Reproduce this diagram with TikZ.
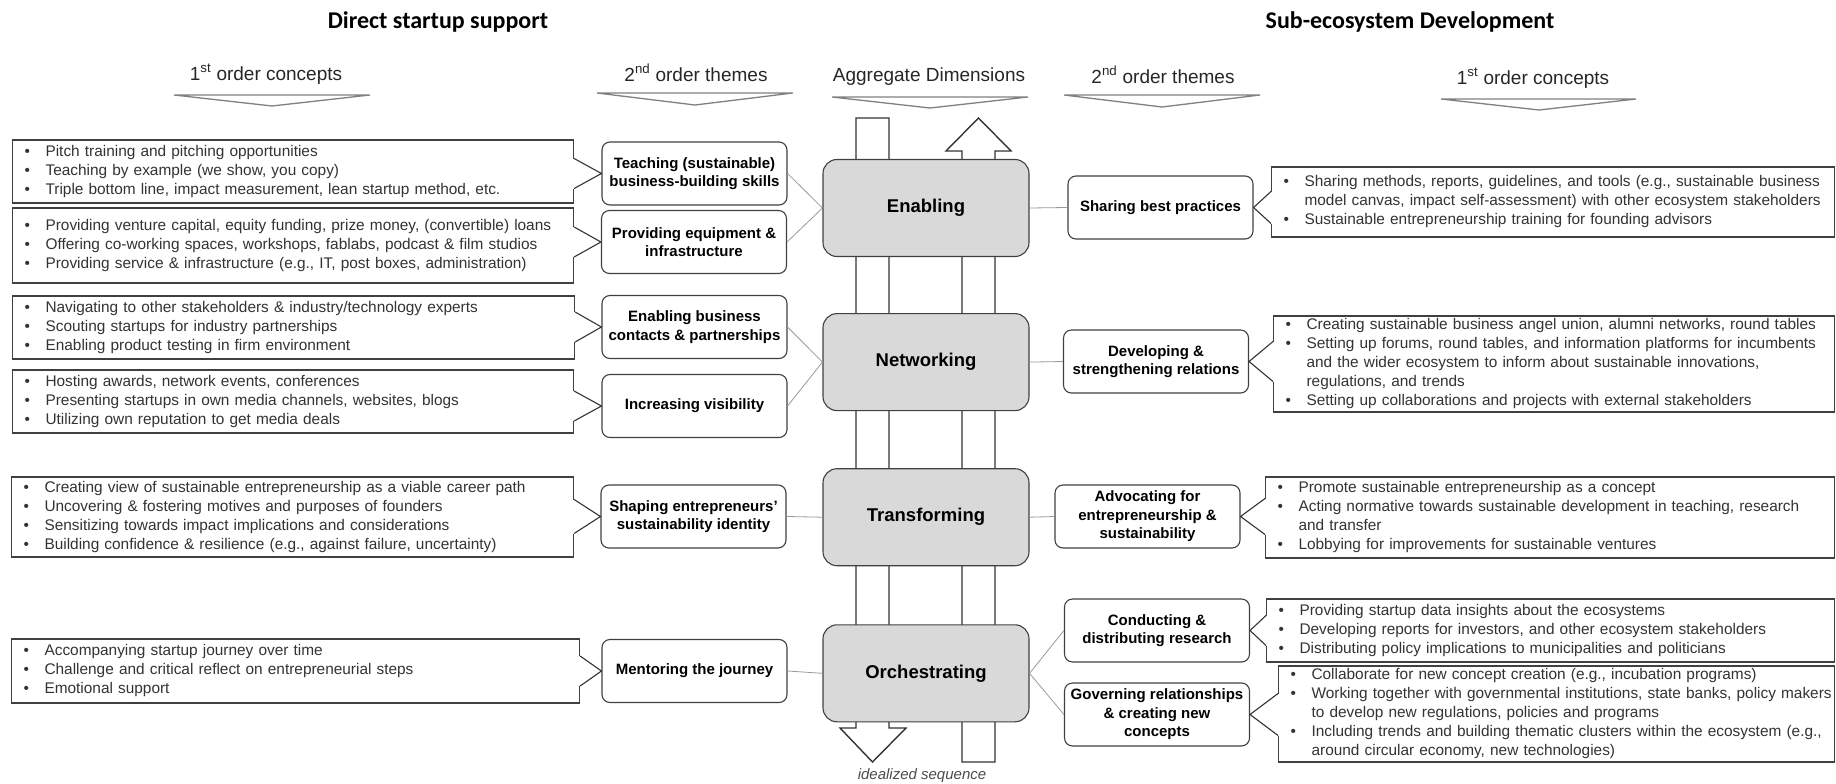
\documentclass[tikz,border=0pt]{standalone}
\usepackage{fontspec}
\setmainfont{Liberation Sans}
\newfontfamily\titlefont{Carlito}
\usetikzlibrary{positioning,calc}

\newcommand{\itm}[1]{\mbox{\makebox[21bp][l]{\textbullet}#1}}
\newcommand{\cnt}[1]{\mbox{\hspace*{21bp}#1}}

\begin{document}
\begin{tikzpicture}[x=1bp,y=-1bp,line width=1.1bp,node distance=56bp,
  concept/.style={draw=black!75,fill=white,anchor=west,align=left,inner xsep=12bp,inner ysep=0pt,text=black!80,font=\fontsize{15.4bp}{19bp}\selectfont},
  theme/.style={draw=black!75,fill=white,rounded corners=8bp,align=center,minimum width=185bp,minimum height=63bp,inner sep=1bp,font=\bfseries\fontsize{15bp}{18.5bp}\selectfont},
  agg/.style={draw=black!75,fill=black!15,rounded corners=14bp,minimum width=206bp,minimum height=97bp,font=\bfseries\fontsize{18.5bp}{22bp}\selectfont},
  head/.style={text=black!85,font=\fontsize{19bp}{22bp}\selectfont},
  title/.style={font=\titlefont\bfseries\fontsize{24bp}{28bp}\selectfont},
  chev/.style={draw=black!50,fill=white,line width=1.3bp},
  flow/.style={draw=black!80,fill=white,line width=1.4bp},
  link/.style={draw=black!40,line width=0.8bp},
  gap/.style={draw=white,line width=2.6bp},
  brace/.style={draw=black!80,line width=1.1bp}]

\useasboundingbox (0,0) rectangle (1836,784);

% titles and column heads
\node[title] (dss) at (438,22) {Direct startup support};
\node[title] (sed) at (1410,22) {Sub-ecosystem Development};

\node[head] (h1) at (266,74) {1\textsuperscript{st} order concepts};
\node[head] (h2) at (696,73) {2\textsuperscript{nd} order themes};
\node[head] (h3) at (929,77) {Aggregate Dimensions};
\node[head] (h4) at (1163,75) {2\textsuperscript{nd} order themes};
\node[head] (h5) at (1533,78) {1\textsuperscript{st} order concepts};

\draw[chev] (174,95) -- (370,95) -- (272,106) -- cycle;
\draw[chev] (597,93) -- (793,93) -- (695,105) -- cycle;
\draw[chev] (832,97) -- (1028,97) -- (930,108) -- cycle;
\draw[chev] (1064,95) -- (1260,95) -- (1162,107) -- cycle;
\draw[chev] (1441,99) -- (1636,99) -- (1539,110) -- cycle;

% idealized sequence arrows
\draw[flow] (856,118) -- (889,118) -- (889,728) -- (906,728) -- (872.5,762) -- (840,728) -- (856,728) -- cycle;
\draw[flow] (962,762) -- (962,151) -- (946,151) -- (978.5,118) -- (1011,151) -- (995,151) -- (995,762) -- cycle;
\node[text=black!70,font=\itshape\fontsize{15bp}{18bp}\selectfont] (seq) at (922,776) {idealized sequence};

% aggregate dimensions
\node[agg] (enab) at (926,208) {Enabling};
\node[agg] (netw) [below=56bp of enab] {Networking};
\node[agg] (trans) [below=57bp of netw] {Transforming};
\node[agg] (orch) [below=58bp of trans] {Orchestrating};

% 2nd order themes, direct startup support
\node[theme] (teach) at (694.5,173.5) {Teaching (sustainable)\\business-building skills};
\node[theme] (equip) at (694,242) {Providing equipment \&\\infrastructure};
\node[theme] (contact) at (694.5,327) {Enabling business\\contacts \& partnerships};
\node[theme] (visib) at (694.5,406) {Increasing visibility};
\node[theme] (ident) at (693.5,516.5) {Shaping entrepreneurs'\\sustainability identity};
\node[theme] (mentor) at (694.5,671) {Mentoring the journey};

% 2nd order themes, sub-ecosystem development
\node[theme] (share) at (1160.5,207.5) {Sharing best practices};
\node[theme] (relat) at (1156,361.5) {Developing \&\\strengthening relations};
\node[theme] (advoc) at (1147.5,516.5) {Advocating for\\entrepreneurship \&\\sustainability};
\node[theme] (resea) at (1157,630.5) {Conducting \&\\distributing research};
\node[theme] (govern) at (1157,714.5) {Governing relationships\\\& creating new\\concepts};

% 1st order concepts, left
\node[concept,text width=537bp,minimum height=63bp] (c1) at (12,171.5) {%
  \itm{Pitch training and pitching opportunities}\\
  \itm{Teaching by example (we show, you copy)}\\
  \itm{Triple bottom line, impact measurement, lean startup method, etc.}};
\node[concept,text width=537bp,minimum height=75bp] (c2) at (12,245.5) {%
  \itm{Providing venture capital, equity funding, prize money, (convertible) loans}\\
  \itm{Offering co-working spaces, workshops, fablabs, podcast \& film studios}\\
  \itm{Providing service \& infrastructure (e.g., IT, post boxes, administration)}};
\node[concept,text width=538bp,minimum height=63bp] (c3) at (12,327.5) {%
  \itm{Navigating to other stakeholders \& industry/technology experts}\\
  \itm{Scouting startups for industry partnerships}\\
  \itm{Enabling product testing in firm environment}};
\node[concept,text width=537bp,minimum height=63bp] (c4) at (12,401.5) {%
  \itm{Hosting awards, network events, conferences}\\
  \itm{Presenting startups in own media channels, websites, blogs}\\
  \itm{Utilizing own reputation to get media deals}};
\node[concept,text width=538bp,minimum height=80bp] (c5) at (11,517) {%
  \itm{Creating view of sustainable entrepreneurship as a viable career path}\\
  \itm{Uncovering \& fostering motives and purposes of founders}\\
  \itm{Sensitizing towards impact implications and considerations}\\
  \itm{Building confidence \& resilience (e.g., against failure, uncertainty)}};
\node[concept,text width=544bp,minimum height=64bp] (c6) at (11,671) {%
  \itm{Accompanying startup journey over time}\\
  \itm{Challenge and critical reflect on entrepreneurial steps}\\
  \itm{Emotional support}};

% 1st order concepts, right
\node[concept,text width=539bp,minimum height=70bp] (c7) at (1271,202) {%
  \itm{Sharing methods, reports, guidelines, and tools (e.g., sustainable business}\\
  \cnt{model canvas, impact self-assessment) with other ecosystem stakeholders}\\
  \itm{Sustainable entrepreneurship training for founding advisors}};
\node[concept,text width=537bp,minimum height=96bp] (c8) at (1273,364) {%
  \itm{Creating sustainable business angel union, alumni networks, round tables}\\
  \itm{Setting up forums, round tables, and information platforms for incumbents}\\
  \cnt{and the wider ecosystem to inform about sustainable innovations,}\\
  \cnt{regulations, and trends}\\
  \itm{Setting up collaborations and projects with external stakeholders}};
\node[concept,text width=545bp,minimum height=81bp] (c9) at (1265,517.5) {%
  \itm{Promote sustainable entrepreneurship as a concept}\\
  \itm{Acting normative towards sustainable development in teaching, research}\\
  \cnt{and transfer}\\
  \itm{Lobbying for improvements for sustainable ventures}};
\node[concept,text width=544bp,minimum height=63bp] (c10) at (1266,630.5) {%
  \itm{Providing startup data insights about the ecosystems}\\
  \itm{Developing reports for investors, and other ecosystem stakeholders}\\
  \itm{Distributing policy implications to municipalities and politicians}};
\node[concept,text width=532bp,minimum height=96bp] (c11) at (1278,714) {%
  \itm{Collaborate for new concept creation (e.g., incubation programs)}\\
  \itm{Working together with governmental institutions, state banks, policy makers}\\
  \cnt{to develop new regulations, policies and programs}\\
  \itm{Including trends and building thematic clusters within the ecosystem (e.g.,}\\
  \cnt{around circular economy, new technologies)}};

% themes to aggregate dimensions
\draw[link] (teach.east) -- (enab.west);
\draw[link] (equip.east) -- (enab.west);
\draw[link] (contact.east) -- (netw.west);
\draw[link] (visib.east) -- (netw.west);
\draw[link] (ident.east) -- (trans.west);
\draw[link] (mentor.east) -- (orch.west);
\draw[link] (enab.east) -- (share.west);
\draw[link] (netw.east) -- (relat.west);
\draw[link] (trans.east) -- (advoc.west);
\draw[link] (orch.east) -- (resea.west);
\draw[link] (orch.east) -- (govern.west);

% concept boxes pointing at their themes
\draw[gap] ($(c1.east |- teach)+(0,-15)$) -- ($(c1.east |- teach)+(0,15)$);
\draw[brace] ($(c1.east |- teach)+(0,-15)$) -- (teach.west) -- ($(c1.east |- teach)+(0,15)$);
\draw[gap] ($(c2.east |- equip)+(0,-15)$) -- ($(c2.east |- equip)+(0,15)$);
\draw[brace] ($(c2.east |- equip)+(0,-15)$) -- (equip.west) -- ($(c2.east |- equip)+(0,15)$);
\draw[gap] ($(c3.east |- contact)+(0,-15)$) -- ($(c3.east |- contact)+(0,15)$);
\draw[brace] ($(c3.east |- contact)+(0,-15)$) -- (contact.west) -- ($(c3.east |- contact)+(0,15)$);
\draw[gap] ($(c4.east |- visib)+(0,-15)$) -- ($(c4.east |- visib)+(0,15)$);
\draw[brace] ($(c4.east |- visib)+(0,-15)$) -- (visib.west) -- ($(c4.east |- visib)+(0,15)$);
\draw[gap] ($(c5.east |- ident)+(0,-17)$) -- ($(c5.east |- ident)+(0,17)$);
\draw[brace] ($(c5.east |- ident)+(0,-17)$) -- (ident.west) -- ($(c5.east |- ident)+(0,17)$);
\draw[gap] ($(c6.east |- mentor)+(0,-15)$) -- ($(c6.east |- mentor)+(0,15)$);
\draw[brace] ($(c6.east |- mentor)+(0,-15)$) -- (mentor.west) -- ($(c6.east |- mentor)+(0,15)$);

\draw[gap] ($(c7.west |- share)+(0,-16)$) -- ($(c7.west |- share)+(0,16)$);
\draw[brace] ($(c7.west |- share)+(0,-16)$) -- (share.east) -- ($(c7.west |- share)+(0,16)$);
\draw[gap] ($(c8.west |- relat)+(0,-20)$) -- ($(c8.west |- relat)+(0,20)$);
\draw[brace] ($(c8.west |- relat)+(0,-20)$) -- (relat.east) -- ($(c8.west |- relat)+(0,20)$);
\draw[gap] ($(c9.west |- advoc)+(0,-18)$) -- ($(c9.west |- advoc)+(0,18)$);
\draw[brace] ($(c9.west |- advoc)+(0,-18)$) -- (advoc.east) -- ($(c9.west |- advoc)+(0,18)$);
\draw[gap] ($(c10.west |- resea)+(0,-15)$) -- ($(c10.west |- resea)+(0,15)$);
\draw[brace] ($(c10.west |- resea)+(0,-15)$) -- (resea.east) -- ($(c10.west |- resea)+(0,15)$);
\draw[gap] ($(c11.west |- govern)+(0,-21)$) -- ($(c11.west |- govern)+(0,21)$);
\draw[brace] ($(c11.west |- govern)+(0,-21)$) -- (govern.east) -- ($(c11.west |- govern)+(0,21)$);

\end{tikzpicture}
\end{document}
